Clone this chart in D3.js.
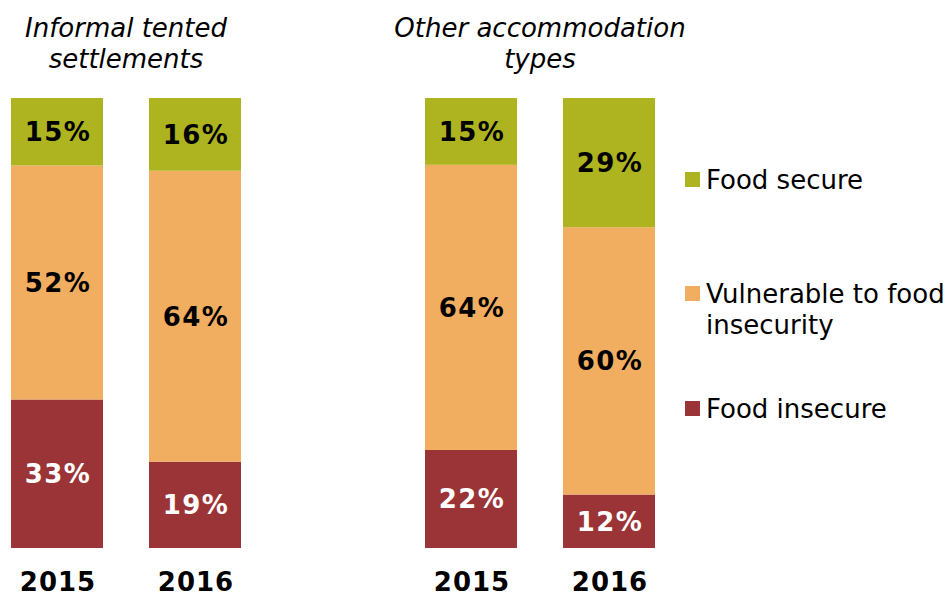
<!DOCTYPE html>
<html>
<head>
<meta charset="utf-8">
<script src="https://cdn.jsdelivr.net/npm/d3@7/dist/d3.min.js"></script>
<style>
  html, body { margin: 0; padding: 0; background: #fff; }
  svg { display: block; font-family: "DejaVu Sans", Verdana, sans-serif; }
</style>
</head>
<body>
<svg id="chart" width="952" height="594"></svg>
<script>
// Accommodation groups and survey years
const groups = ["Informal tented settlements", "Other accommodation types"];
const groupTitles = [["Informal tented", "settlements"], ["Other accommodation", "types"]];
const years = ["2015", "2016"];

// Share of households per food security category (%), per group then year
const foodInsecure = [[33, 19], [22, 12]];
const vulnerable   = [[52, 64], [64, 60]];
const foodSecure   = [[15, 16], [15, 29]];

const seriesNames = ["Food insecure", "Vulnerable to food insecurity", "Food secure"];
const seriesKeys = ["insecure", "vulnerable", "secure"];
const colors = { insecure: "#9b3436", vulnerable: "#f2ae60", secure: "#adb41f" };

// Flatten into one row per bar
const rows = [];
groups.forEach((g, gi) => years.forEach((y, yi) => rows.push({
  group: g, year: y,
  insecure: foodInsecure[gi][yi],
  vulnerable: vulnerable[gi][yi],
  secure: foodSecure[gi][yi]
})));

const svg = d3.select("#chart");

const xGroup = d3.scalePoint().domain(groups).range([126, 540]);
const xYear = d3.scaleBand().domain(years).range([-115, 115]).paddingInner(1 / 3);
const y = d3.scaleLinear().domain([0, 1]).range([548, 98]);

const stack = d3.stack().keys(seriesKeys).offset(d3.stackOffsetExpand);
const layers = stack(rows);

const barX = d => xGroup(d.data.group) + xYear(d.data.year);

const layerG = svg.selectAll("g.layer").data(layers).join("g")
  .attr("class", "layer")
  .attr("fill", l => colors[l.key]);

layerG.selectAll("rect").data(l => l).join("rect")
  .attr("x", barX)
  .attr("width", xYear.bandwidth())
  .attr("y", d => y(d[1]))
  .attr("height", d => y(d[0]) - y(d[1]));

// Segment value labels
layerG.selectAll("text").data(l => l.map(d => ({ d, key: l.key }))).join("text")
  .attr("x", o => barX(o.d) + xYear.bandwidth() / 2 + 1)
  .attr("y", o => (y(o.d[0]) + y(o.d[1])) / 2)
  .attr("dy", "0.36em")
  .attr("text-anchor", "middle")
  .attr("font-size", 26)
  .attr("font-weight", "bold")
  .attr("letter-spacing", 1.5)
  .attr("fill", o => o.key === "insecure" ? "#ffffff" : "#000000")
  .text(o => o.d.data[o.key] + "%");

// Year labels beneath bars
svg.append("g").selectAll("text").data(rows).join("text")
  .attr("x", d => xGroup(d.group) + xYear(d.year) + xYear.bandwidth() / 2 + 1)
  .attr("y", 591)
  .attr("text-anchor", "middle")
  .attr("font-size", 26)
  .attr("font-weight", "bold")
  .attr("letter-spacing", 1)
  .attr("fill", "#000")
  .text(d => d.year);

// Group titles
const titles = svg.append("g").selectAll("text").data(groups).join("text")
  .attr("x", g => xGroup(g))
  .attr("text-anchor", "middle")
  .attr("font-size", 26)
  .attr("font-style", "italic")
  .attr("fill", "#000");
titles.selectAll("tspan").data((g, i) => groupTitles[i]).join("tspan")
  .attr("x", function () { return d3.select(this.parentNode).attr("x"); })
  .attr("y", (t, i) => 37 + i * 31)
  .text(t => t);

// Legend
const legendItems = [
  { key: "secure", lines: ["Food secure"], y: 180 },
  { key: "vulnerable", lines: ["Vulnerable to food", "insecurity"], y: 294 },
  { key: "insecure", lines: ["Food insecure"], y: 409 }
];
const lg = svg.append("g").selectAll("g").data(legendItems).join("g");
lg.append("rect")
  .attr("x", 685).attr("y", d => d.y - 8)
  .attr("width", 15).attr("height", 15)
  .attr("fill", d => colors[d.key]);
lg.append("text")
  .attr("font-size", 26)
  .attr("fill", "#000")
  .selectAll("tspan").data(d => d.lines.map((t, i) => ({ t, i, y: d.y }))).join("tspan")
  .attr("x", 706)
  .attr("y", o => o.y + 9 + o.i * 31)
  .text(o => o.t);
</script>
</body>
</html>
